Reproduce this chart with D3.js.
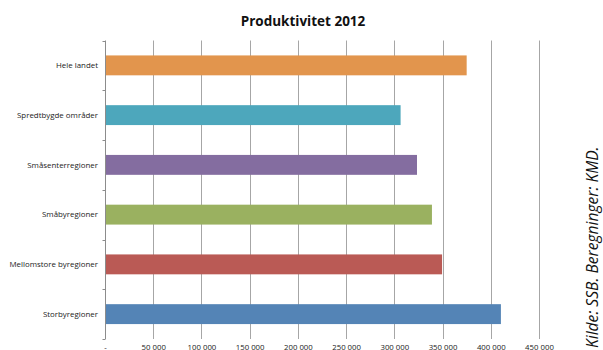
<!DOCTYPE html>
<html><head><meta charset="utf-8">
<script src="https://cdn.jsdelivr.net/npm/d3@7"></script>
<style>body{margin:0;background:#fff}svg{display:block}</style>
</head><body>
<script>
const categories = ["Hele landet","Spredtbygde områder","Småsenterregioner","Småbyregioner","Mellomstore byregioner","Storbyregioner"];
const values = [375000, 306500, 323500, 339000, 349500, 410500];
const colors = ["#E2954D","#4DA7BC","#846DA0","#9AB160","#BA5A55","#5484B6"];
const tickValues = [0,50000,100000,150000,200000,250000,300000,350000,400000,450000];
const tickLabels = ["-","50 000","100 000","150 000","200 000","250 000","300 000","350 000","400 000","450 000"];
const title = "Produktivitet 2012";
const source = "Kilde: SSB. Beregninger: KMD.";

const W=603,H=350;
const svg=d3.select("body").append("svg").attr("width",W).attr("height",H);
const font="'Open Sans', 'DejaVu Sans', sans-serif";
const x=d3.scaleLinear().domain([0,450000]).range([105,539]);
const yStep=d3.scaleBand().domain(categories).range([40.5,339]);

// gridlines
svg.append("g").selectAll("line").data(tickValues.slice(1)).join("line")
 .attr("x1",d=>Math.round(x(d))+0.5).attr("x2",d=>Math.round(x(d))+0.5)
 .attr("y1",40.5).attr("y2",339).attr("stroke","#a6a6a6").attr("stroke-width",1);

// bars
svg.append("g").selectAll("rect").data(values).join("rect")
 .attr("x",x(0)).attr("y",(d,i)=>yStep(categories[i])+yStep.step()*0.3)
 .attr("width",d=>x(d)-x(0)).attr("height",yStep.step()*0.4)
 .attr("fill",(d,i)=>colors[i]);

// left axis
const ay=svg.append("g");
ay.append("line").attr("x1",105.5).attr("x2",105.5).attr("y1",40.5).attr("y2",339).attr("stroke","#8c8c8c");
const bounds=categories.map(c=>yStep(c)).concat([339]);
ay.selectAll("line.t").data(bounds).join("line").attr("class","t")
 .attr("x1",102.5).attr("x2",105.5).attr("y1",d=>Math.round(d)+0.5).attr("y2",d=>Math.round(d)+0.5).attr("stroke","#8c8c8c");
ay.selectAll("text").data(categories).join("text")
 .attr("x",98).attr("y",d=>yStep(d)+yStep.step()/2).attr("dy","0.35em")
 .attr("text-anchor","end").attr("font-family",font).attr("font-size",7.9).attr("fill","#222").text(d=>d);

// bottom tick labels
svg.append("g").selectAll("text").data(tickValues).join("text")
 .attr("x",d=>x(d)+0.5).attr("y",349.5).attr("text-anchor","middle")
 .attr("font-family",font).attr("font-size",7.8).attr("fill","#222")
 .text((d,i)=>tickLabels[i]);

// title
svg.append("text").attr("x",303).attr("y",26).attr("text-anchor","middle")
 .attr("font-family",font).attr("font-weight","bold").attr("font-size",13.5).attr("fill","#111").text(title);

// source
svg.append("text").attr("transform","translate(598,348) rotate(-90)")
 .attr("font-family",font).attr("font-style","italic").attr("font-size",15.6).attr("fill","#111").text(source);
</script>
</body></html>
